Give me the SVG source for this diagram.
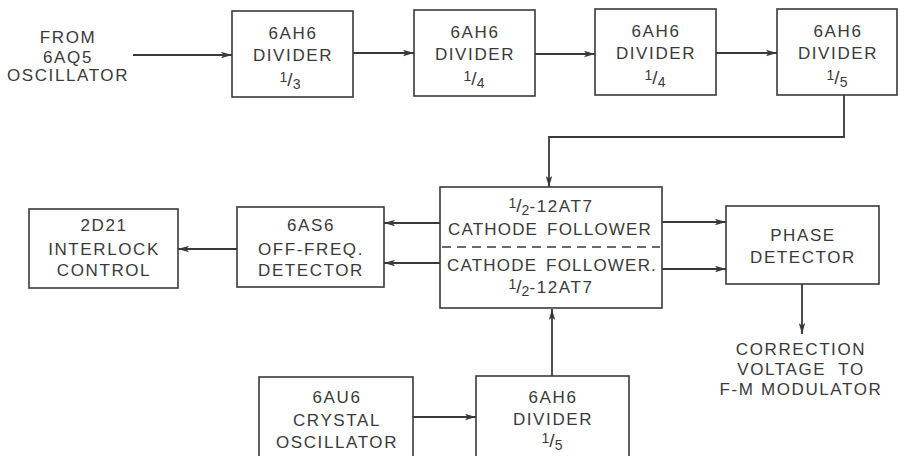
<svg xmlns="http://www.w3.org/2000/svg" width="906" height="456" viewBox="0 0 906 456">
<defs>
<style>
.box{fill:none;stroke:#3a3a3a;stroke-width:1.6}
.t{font-family:"Liberation Sans",Arial,sans-serif;font-size:17px;fill:#3a3a3a;text-anchor:middle;letter-spacing:1.6px}
.f{letter-spacing:0}
.s{font-size:14px;letter-spacing:0}
.sl{font-size:19px;letter-spacing:0}
.w{word-spacing:6px}
.cf{letter-spacing:1.2px;word-spacing:3px}
.c{fill:none;stroke:#3a3a3a;stroke-width:1.8}
.a{marker-end:url(#ah)}
.d{fill:none;stroke:#3a3a3a;stroke-width:1.4;stroke-dasharray:9,6}
</style>
<marker id="ah" markerWidth="12" markerHeight="7" refX="11" refY="3.5" orient="auto" markerUnits="userSpaceOnUse">
<path d="M0,0.3 L11,3.5 L0,6.7 L2.5,3.5 z" fill="#3a3a3a"/>
</marker>
</defs>
<rect width="906" height="456" fill="#ffffff"/>

<g id="src-label">
<text class="t" x="68" y="43">FROM</text>
<text class="t" x="68" y="63">6AQ5</text>
<text class="t" x="68" y="81">OSCILLATOR</text>
</g>

<g id="div1">
<rect class="box" x="232" y="11" width="121" height="86"/>
<text class="t" x="293" y="39">6AH6</text>
<text class="t" x="293" y="61">DIVIDER</text>
<text class="t f" x="290" y="86"><tspan class="s" dy="-4">1</tspan><tspan class="sl" dy="4">/</tspan><tspan class="s" dy="3">3</tspan></text>
</g>

<g id="div2">
<rect class="box" x="414" y="10" width="121" height="86"/>
<text class="t" x="475" y="38">6AH6</text>
<text class="t" x="475" y="60">DIVIDER</text>
<text class="t f" x="474" y="85"><tspan class="s" dy="-4">1</tspan><tspan class="sl" dy="4">/</tspan><tspan class="s" dy="3">4</tspan></text>
</g>

<g id="div3">
<rect class="box" x="595" y="9" width="121" height="86"/>
<text class="t" x="656" y="37">6AH6</text>
<text class="t" x="656" y="59">DIVIDER</text>
<text class="t f" x="655" y="84"><tspan class="s" dy="-4">1</tspan><tspan class="sl" dy="4">/</tspan><tspan class="s" dy="3">4</tspan></text>
</g>

<g id="div4">
<rect class="box" x="777" y="9" width="120" height="86"/>
<text class="t" x="838" y="37">6AH6</text>
<text class="t" x="838" y="59">DIVIDER</text>
<text class="t f" x="837" y="84"><tspan class="s" dy="-4">1</tspan><tspan class="sl" dy="4">/</tspan><tspan class="s" dy="3">5</tspan></text>
</g>

<g id="cathode">
<rect class="box" x="440" y="187" width="222" height="121"/>
<line class="d" x1="442" y1="247" x2="660" y2="247"/>
<text class="t" x="551" y="212"><tspan class="s" dy="-4">1</tspan><tspan class="sl" dy="4">/</tspan><tspan class="s" dy="3">2</tspan><tspan dy="-3">-12AT7</tspan></text>
<text class="t cf" x="550" y="235">CATHODE FOLLOWER</text>
<text class="t cf" x="552" y="271">CATHODE FOLLOWER.</text>
<text class="t" x="551" y="293"><tspan class="s" dy="-4">1</tspan><tspan class="sl" dy="4">/</tspan><tspan class="s" dy="3">2</tspan><tspan dy="-3">-12AT7</tspan></text>
</g>

<g id="offfreq">
<rect class="box" x="237" y="207" width="147" height="80"/>
<text class="t" x="311" y="231">6AS6</text>
<text class="t" x="311" y="255">OFF-FREQ.</text>
<text class="t" x="311" y="276">DETECTOR</text>
</g>

<g id="interlock">
<rect class="box" x="29" y="209" width="149" height="79"/>
<text class="t" x="104" y="231">2D21</text>
<text class="t" x="104" y="255">INTERLOCK</text>
<text class="t" x="104" y="276">CONTROL</text>
</g>

<g id="phase">
<rect class="box" x="726" y="206" width="153" height="78"/>
<text class="t" x="803" y="241">PHASE</text>
<text class="t" x="803" y="263">DETECTOR</text>
</g>

<g id="out-label">
<text class="t" x="801" y="355">CORRECTION</text>
<text class="t w" x="801" y="375">VOLTAGE TO</text>
<text class="t" x="801" y="395">F-M MODULATOR</text>
</g>

<g id="crystal">
<rect class="box" x="259" y="377" width="154" height="90"/>
<text class="t" x="337" y="403">6AU6</text>
<text class="t" x="337" y="426">CRYSTAL</text>
<text class="t" x="337" y="448">OSCILLATOR</text>
</g>

<g id="div5">
<rect class="box" x="476" y="376" width="153" height="90"/>
<text class="t" x="553" y="403">6AH6</text>
<text class="t" x="553" y="425">DIVIDER</text>
<text class="t f" x="552" y="447"><tspan class="s" dy="-4">1</tspan><tspan class="sl" dy="4">/</tspan><tspan class="s" dy="3">5</tspan></text>
</g>

<g id="connectors">
<line class="c a" x1="133" y1="55" x2="232" y2="55"/>
<line class="c a" x1="353" y1="53" x2="414" y2="53"/>
<line class="c a" x1="535" y1="54" x2="595" y2="54"/>
<line class="c a" x1="716" y1="53" x2="777" y2="53"/>
<polyline class="c a" points="844,95 844,137 549,137 549,187"/>
<line class="c a" x1="440" y1="223" x2="384" y2="223"/>
<line class="c a" x1="440" y1="263" x2="384" y2="263"/>
<line class="c a" x1="237" y1="249" x2="178" y2="249"/>
<line class="c a" x1="662" y1="222" x2="726" y2="222"/>
<line class="c a" x1="662" y1="269" x2="726" y2="269"/>
<line class="c a" x1="802" y1="284" x2="802" y2="334"/>
<line class="c a" x1="413" y1="417" x2="476" y2="417"/>
<line class="c a" x1="552" y1="376" x2="552" y2="309"/>
</g>
</svg>
